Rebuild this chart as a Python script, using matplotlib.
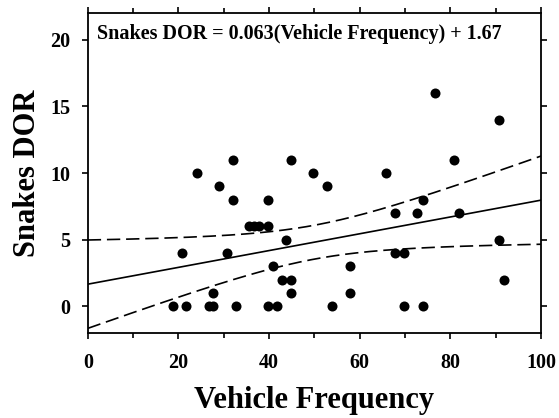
import numpy as np
import matplotlib
matplotlib.use("Agg")
import matplotlib.pyplot as plt
from matplotlib.ticker import MultipleLocator

vehicle_freq = [18.7, 21.7, 20.7, 24.0, 26.7, 27.7, 27.7, 29.0, 30.8, 32.0, 32.0, 32.8,
                35.5, 36.6, 37.7, 39.7, 39.7, 39.7, 40.8, 41.8, 42.8, 44.8, 44.8, 43.7,
                44.8, 49.7, 52.7, 53.8, 57.8, 57.8, 65.8, 67.8, 67.8, 69.8, 69.8, 72.7,
                73.9, 73.9, 76.7, 80.7, 81.8, 90.7, 90.7, 91.8]
snakes_dor = [0, 0, 4, 10, 0, 0, 1, 9, 4, 11, 8, 0,
              6, 6, 6, 6, 8, 0, 3, 0, 2, 2, 1, 5,
              11, 10, 9, 0, 3, 1, 10, 7, 4, 4, 0, 7,
              8, 0, 16, 11, 7, 14, 5, 2]
slope = 0.063
intercept = 1.67
equation = "Snakes DOR = 0.063(Vehicle Frequency) + 1.67"
x_label = "Vehicle Frequency"
y_label = "Snakes DOR"

x = np.array(vehicle_freq)
y = np.array(snakes_dor)
n = len(x)
resid = y - (intercept + slope * x)
s = np.sqrt(np.sum(resid**2) / (n - 2))
xs = np.linspace(0, 100, 200)
yfit = intercept + slope * xs
t = 2.018
se = s * np.sqrt(1.0 / n + (xs - x.mean())**2 / np.sum((x - x.mean())**2))

plt.rcParams['font.family'] = ['Liberation Serif', 'DejaVu Serif']
plt.rcParams['font.weight'] = 'bold'

fig = plt.figure(figsize=(5.59, 4.18), dpi=100)
ax = fig.add_axes([0.157, 0.203, 0.811, 0.766])
ax.plot(xs, yfit, color='black', lw=1.2)
ax.plot(xs, yfit + t * se, color='black', lw=1.2, dashes=(8, 3.5))
ax.plot(xs, yfit - t * se, color='black', lw=1.2, dashes=(8, 3.5))
ax.scatter(x, y, s=52, color='black', zorder=3, linewidths=0)

ax.set_xlim(0, 100)
ax.set_ylim(-2, 22)
ax.xaxis.set_major_locator(MultipleLocator(20))
ax.xaxis.set_minor_locator(MultipleLocator(10))
ax.set_yticks([0, 5, 10, 15, 20])
ax.tick_params(which='both', direction='out', top=True, right=True,
               labeltop=False, labelright=False, width=1.2)
ax.tick_params(which='major', length=4.5, labelsize=14.5)
ax.tick_params(axis='x', which='major', pad=10)
ax.tick_params(axis='y', which='major', pad=8)
ax.tick_params(which='minor', length=3.5)
for lab in ax.get_xticklabels() + ax.get_yticklabels():
    lab.set_fontweight('bold')
for sp in ax.spines.values():
    sp.set_linewidth(1.3)

ax.set_xlabel(x_label, fontsize=22, fontweight='bold', labelpad=9)
ax.set_ylabel(y_label, fontsize=22, fontweight='bold', labelpad=6)
ax.text(0.02, 0.965, equation, transform=ax.transAxes, fontsize=14.5,
        fontweight='bold', va='top', ha='left')

fig.savefig("out.png", dpi=100)
